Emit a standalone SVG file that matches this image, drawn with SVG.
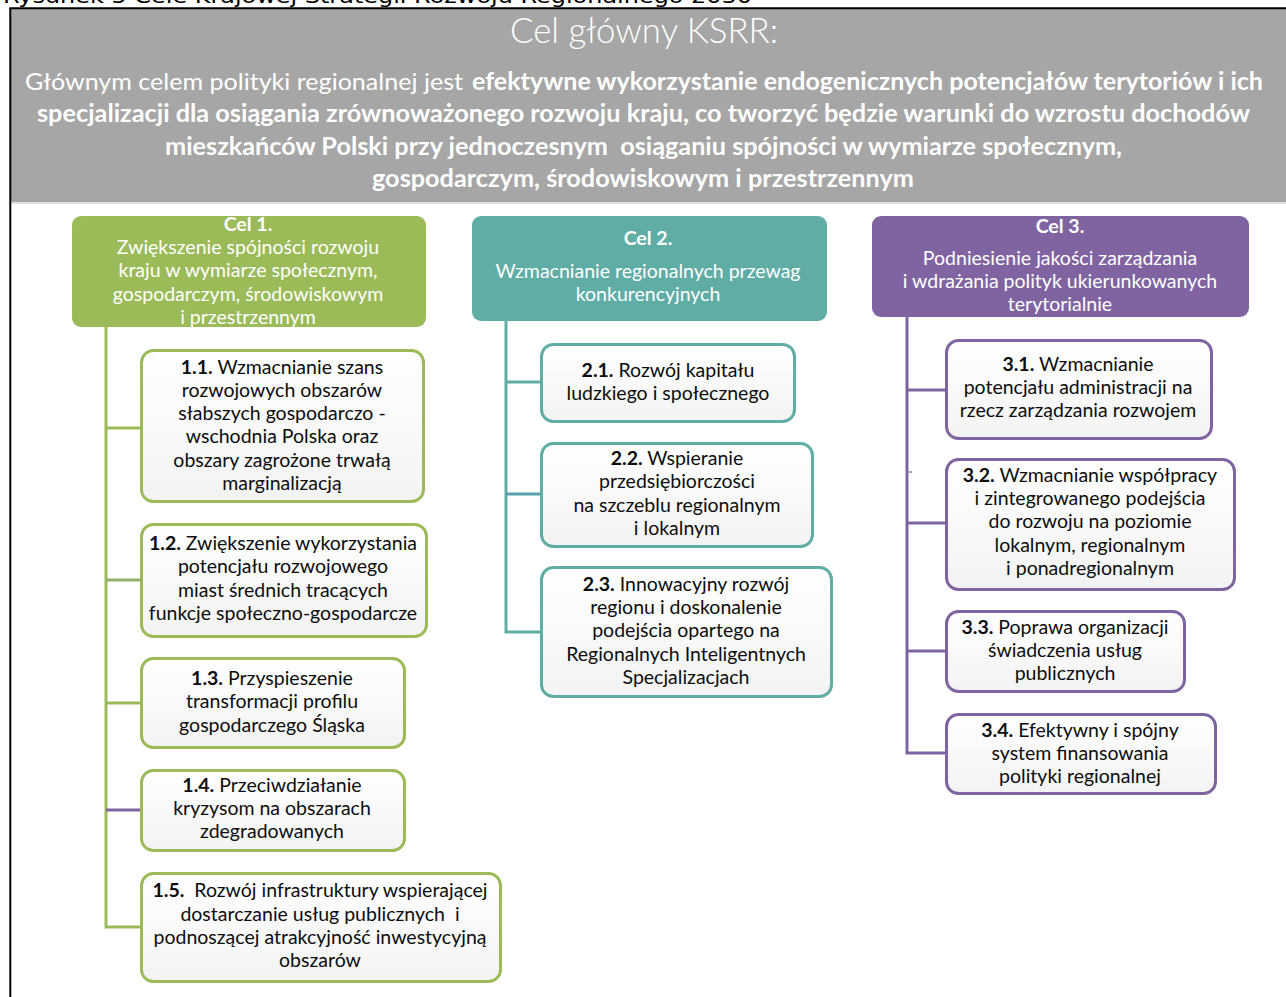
<svg xmlns="http://www.w3.org/2000/svg" width="1286" height="997" viewBox="0 0 1286 997">
<defs>
<linearGradient id="bf" x1="0" y1="0" x2="0" y2="1">
<stop offset="0" stop-color="#ffffff"/>
<stop offset="1" stop-color="#f3f3f3"/>
</linearGradient>
<style>
.t{font-family:Lato,"Liberation Sans",sans-serif;font-size:19.5px;fill:#0d0d0d;text-anchor:middle;white-space:pre}
.h{font-family:Lato,"Liberation Sans",sans-serif;font-size:19.5px;fill:#fff;text-anchor:middle}
.b{font-weight:bold}
.hp{font-family:Lato,"Liberation Sans",sans-serif;font-size:24px;fill:#fff;white-space:pre}
.box{fill:url(#bf);stroke-width:3}
.g{stroke:#9bbb59}
.c{stroke:#5fada5}
.p{stroke:#8064a2}
.ln{fill:none;stroke-width:3}
</style>
</defs>
<rect x="0" y="0" width="1286" height="997" fill="#fff"/>
<text x="3" y="3" font-family="'DejaVu Sans',Verdana,sans-serif" font-size="19" fill="#000" textLength="749" lengthAdjust="spacingAndGlyphs">Rysunek 5 Cele Krajowej Strategii Rozwoju Regionalnego 2030</text>
<g id="header">
<rect x="11" y="9" width="1275" height="193" fill="#a6a6a6"/>
<line x1="11" y1="203" x2="1286" y2="203" stroke="#d4d4d4" stroke-width="1.5"/>
<text x="510" y="43" font-family="Lato,'Liberation Sans',sans-serif" font-size="35" font-weight="300" fill="#fff" textLength="268" lengthAdjust="spacingAndGlyphs">Cel główny KSRR:</text>
<text class="hp" x="25" y="90" textLength="438" lengthAdjust="spacingAndGlyphs">Głównym celem polityki regionalnej jest</text>
<text class="hp b" x="472" y="90" textLength="791" lengthAdjust="spacingAndGlyphs">efektywne wykorzystanie endogenicznych potencjałów terytoriów i ich</text>
<text class="hp b" x="37" y="122" textLength="1213" lengthAdjust="spacingAndGlyphs">specjalizacji dla osiągania zrównoważonego rozwoju kraju, co tworzyć będzie warunki do wzrostu dochodów</text>
<text class="hp b" x="165" y="155" textLength="957" lengthAdjust="spacingAndGlyphs">mieszkańców Polski przy jednoczesnym  osiąganiu spójności w wymiarze społecznym,</text>
<text class="hp b" x="372" y="187" textLength="542" lengthAdjust="spacingAndGlyphs">gospodarczym, środowiskowym i przestrzennym</text>
</g>
<line x1="10.3" y1="8" x2="10.3" y2="997" stroke="#000" stroke-width="2"/>
<line x1="9.3" y1="8.3" x2="1286" y2="8.3" stroke="#000" stroke-width="2"/>
<g id="connectors">
<path class="ln g" d="M106 327 V927 H140 M106 428 H140 M106 703 H140"/>
<path class="ln" stroke="#93b06a" d="M106 580 H140"/>
<path class="ln" stroke="#8064a2" d="M106 810 H140"/>
<path class="ln c" d="M506 321 V632 H540 M506 382 H540"/>
<path class="ln" stroke="#5a9fae" d="M506 494 H540"/>
<path class="ln p" d="M907 317 V753 H945 M907 390 H945 M907 523 H945 M907 651 H945"/>
<line x1="909" y1="472" x2="912" y2="472" stroke="#3a4a8a" stroke-width="1"/>
</g>
<g id="cel1">
<rect x="72" y="216" width="354" height="111" rx="9" fill="#9bbb59"/>
<text class="h"><tspan class="b" x="248" y="231">Cel 1.</tspan><tspan x="248" y="254">Zwiększenie spójności rozwoju</tspan><tspan x="248" y="277">kraju w wymiarze społecznym,</tspan><tspan x="248" y="301">gospodarczym, środowiskowym</tspan><tspan x="248" y="324">i przestrzennym</tspan></text>
</g>
<g id="cel2">
<rect x="472" y="216" width="355" height="105" rx="9" fill="#5fada5"/>
<text class="h"><tspan class="b" x="648" y="245">Cel 2.</tspan><tspan x="648" y="278">Wzmacnianie regionalnych przewag</tspan><tspan x="648" y="301">konkurencyjnych</tspan></text>
</g>
<g id="cel3">
<rect x="872" y="216" width="377" height="101" rx="9" fill="#8064a2"/>
<text class="h"><tspan class="b" x="1060" y="233">Cel 3.</tspan><tspan x="1060" y="265">Podniesienie jakości zarządzania</tspan><tspan x="1060" y="288">i wdrażania polityk ukierunkowanych</tspan><tspan x="1060" y="311">terytorialnie</tspan></text>
</g>
<g id="n1-1">
<rect class="box g" x="141.5" y="350.5" width="282" height="151" rx="12"/>
<text class="t"><tspan x="282" y="374"><tspan class="b">1.1.</tspan> Wzmacnianie szans</tspan><tspan x="282" y="397">rozwojowych obszarów</tspan><tspan x="282" y="420">słabszych gospodarczo -</tspan><tspan x="282" y="443">wschodnia Polska oraz</tspan><tspan x="282" y="467">obszary zagrożone trwałą</tspan><tspan x="282" y="490">marginalizacją</tspan></text>
</g>
<g id="n1-2">
<rect class="box g" x="141.5" y="524.5" width="285" height="112" rx="12"/>
<text class="t"><tspan x="283" y="550"><tspan class="b">1.2.</tspan> Zwiększenie wykorzystania</tspan><tspan x="283" y="573">potencjału rozwojowego</tspan><tspan x="283" y="597">miast średnich tracących</tspan><tspan x="283" y="620">funkcje społeczno-gospodarcze</tspan></text>
</g>
<g id="n1-3">
<rect class="box g" x="141.5" y="658.5" width="263" height="89" rx="12"/>
<text class="t"><tspan x="272" y="685"><tspan class="b">1.3.</tspan> Przyspieszenie</tspan><tspan x="272" y="708">transformacji profilu</tspan><tspan x="272" y="732">gospodarczego Śląska</tspan></text>
</g>
<g id="n1-4">
<rect class="box g" x="141.5" y="770.5" width="263" height="80" rx="12"/>
<text class="t"><tspan x="272" y="792"><tspan class="b">1.4.</tspan> Przeciwdziałanie</tspan><tspan x="272" y="815">kryzysom na obszarach</tspan><tspan x="272" y="838">zdegradowanych</tspan></text>
</g>
<g id="n1-5">
<rect class="box g" x="141.5" y="873.5" width="359" height="108" rx="12"/>
<text class="t"><tspan x="320" y="897"><tspan class="b">1.5.</tspan>  Rozwój infrastruktury wspierającej</tspan><tspan x="320" y="921">dostarczanie usług publicznych  i</tspan><tspan x="320" y="944">podnoszącej atrakcyjność inwestycyjną</tspan><tspan x="320" y="967">obszarów</tspan></text>
</g>
<g id="n2-1">
<rect class="box c" x="541.5" y="344.5" width="253" height="77" rx="12"/>
<text class="t"><tspan x="668" y="377"><tspan class="b">2.1.</tspan> Rozwój kapitału</tspan><tspan x="668" y="400">ludzkiego i społecznego</tspan></text>
</g>
<g id="n2-2">
<rect class="box c" x="541.5" y="443.5" width="271" height="103" rx="12"/>
<text class="t"><tspan x="677" y="465"><tspan class="b">2.2.</tspan> Wspieranie</tspan><tspan x="677" y="488">przedsiębiorczości</tspan><tspan x="677" y="512">na szczeblu regionalnym</tspan><tspan x="677" y="535">i lokalnym</tspan></text>
</g>
<g id="n2-3">
<rect class="box c" x="541.5" y="567.5" width="290" height="129" rx="12"/>
<text class="t"><tspan x="686" y="591"><tspan class="b">2.3.</tspan> Innowacyjny rozwój</tspan><tspan x="686" y="614">regionu i doskonalenie</tspan><tspan x="686" y="637">podejścia opartego na</tspan><tspan x="686" y="661">Regionalnych Inteligentnych</tspan><tspan x="686" y="684">Specjalizacjach</tspan></text>
</g>
<g id="n3-1">
<rect class="box p" x="946.5" y="340.5" width="265" height="98" rx="12"/>
<text class="t"><tspan x="1078" y="371"><tspan class="b">3.1.</tspan> Wzmacnianie</tspan><tspan x="1078" y="394">potencjału administracji na</tspan><tspan x="1078" y="417">rzecz zarządzania rozwojem</tspan></text>
</g>
<g id="n3-2">
<rect class="box p" x="946.5" y="459.5" width="288" height="130" rx="12"/>
<text class="t"><tspan x="1090" y="482"><tspan class="b">3.2.</tspan> Wzmacnianie współpracy</tspan><tspan x="1090" y="505">i zintegrowanego podejścia</tspan><tspan x="1090" y="528">do rozwoju na poziomie</tspan><tspan x="1090" y="552">lokalnym, regionalnym</tspan><tspan x="1090" y="575">i ponadregionalnym</tspan></text>
</g>
<g id="n3-3">
<rect class="box p" x="946.5" y="611.5" width="238" height="80" rx="12"/>
<text class="t"><tspan x="1065" y="634"><tspan class="b">3.3.</tspan> Poprawa organizacji</tspan><tspan x="1065" y="657">świadczenia usług</tspan><tspan x="1065" y="680">publicznych</tspan></text>
</g>
<g id="n3-4">
<rect class="box p" x="946.5" y="714.5" width="269" height="79" rx="12"/>
<text class="t"><tspan x="1080" y="737"><tspan class="b">3.4.</tspan> Efektywny i spójny</tspan><tspan x="1080" y="760">system finansowania</tspan><tspan x="1080" y="783">polityki regionalnej</tspan></text>
</g>
</svg>
